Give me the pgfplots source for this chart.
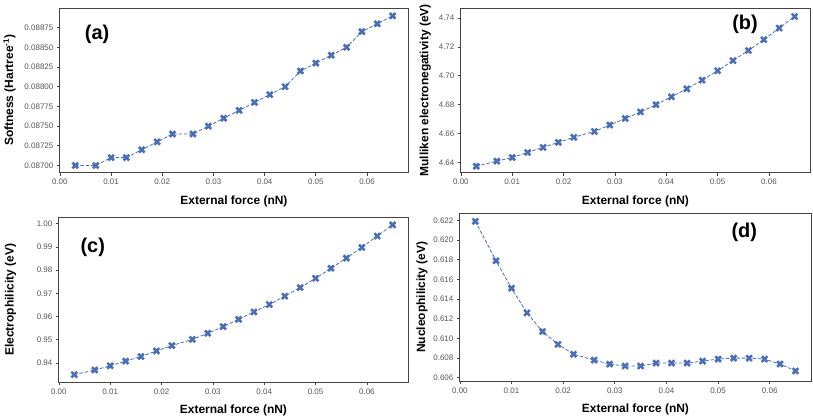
\documentclass[border=0pt]{standalone}
\usepackage{fontspec}
\setmainfont{Liberation Sans}
\usepackage{pgfplots}
\pgfplotsset{compat=1.18}
\definecolor{mk}{HTML}{4A6FB8}
\definecolor{fr}{HTML}{444444}
\definecolor{tk}{HTML}{555555}
\pgfplotstableread{
x y
0.003 0.08700
0.007 0.08700
0.010 0.08710
0.013 0.08710
0.016 0.08720
0.019 0.08730
0.022 0.08740
0.026 0.08740
0.029 0.08750
0.032 0.08760
0.035 0.08770
0.038 0.08780
0.041 0.08790
0.044 0.08800
0.047 0.08820
0.050 0.08830
0.053 0.08840
0.056 0.08850
0.059 0.08870
0.062 0.08880
0.065 0.08890
}\tabA
\pgfplotstableread{
x y
0.003 4.6375
0.007 4.6410
0.010 4.6435
0.013 4.6470
0.016 4.6505
0.019 4.6540
0.022 4.6575
0.026 4.6615
0.029 4.6660
0.032 4.6705
0.035 4.6750
0.038 4.6800
0.041 4.6855
0.044 4.6910
0.047 4.6970
0.050 4.7035
0.053 4.7105
0.056 4.7175
0.059 4.7250
0.062 4.7330
0.065 4.7410
}\tabB
\pgfplotstableread{
x y
0.003 0.9350
0.007 0.9370
0.010 0.9388
0.013 0.9408
0.016 0.9428
0.019 0.9452
0.022 0.9475
0.026 0.9502
0.029 0.9528
0.032 0.9557
0.035 0.9588
0.038 0.9620
0.041 0.9652
0.044 0.9688
0.047 0.9725
0.050 0.9765
0.053 0.9808
0.056 0.9852
0.059 0.9898
0.062 0.9947
0.065 0.9995
}\tabC
\pgfplotstableread{
x y
0.003 0.6219
0.007 0.6179
0.010 0.6151
0.013 0.6126
0.016 0.6107
0.019 0.6094
0.022 0.6084
0.026 0.6078
0.029 0.6074
0.032 0.6072
0.035 0.6072
0.038 0.6075
0.041 0.6075
0.044 0.6075
0.047 0.6077
0.050 0.6079
0.053 0.6080
0.056 0.6080
0.059 0.6079
0.062 0.6074
0.065 0.6067
}\tabD
\pgfplotsset{
  panel/.style={
    scale only axis,
    anchor=south west,
    xmin=0, xmax=0.068,
    xtick={0,0.01,...,0.06},
    /pgf/number format/assume math mode=true,
    xticklabel style={/pgf/number format/.cd,fixed,fixed zerofill,precision=2},
    scaled ticks=false,
    tick label style={font=\fontsize{8}{9}\selectfont, text=tk},
    label style={font=\fontsize{12}{14}\selectfont\bfseries},
    xlabel={External force (nN)},
    axis line style={fr, line width=0.9pt},
    tick style={fr, line width=0.7pt},
    tick align=outside,
    major tick length=3pt,
    xtick pos=bottom, ytick pos=left,
    xlabel style={yshift=-4pt},
  },
  ser/.style={color=mk, line width=0.8pt, dash pattern=on 3.5pt off 1.8pt,
    mark=x, mark size=4pt, mark options={solid, line width=2.6pt}},
}
\begin{document}
\begin{tikzpicture}[x=1pt,y=1pt]
\path (0,0) rectangle (813,416);
% (a)
\begin{axis}[panel, at={(58pt,243pt)}, width=349pt, height=165pt,
  ymin=0.08691, ymax=0.08900,
  ytick={0.087,0.08725,...,0.08876},
  yticklabel style={/pgf/number format/.cd,fixed,fixed zerofill,precision=5},
  ylabel style={yshift=2pt},
  ylabel={Softness (Hartree\textsuperscript{-1})}]
\addplot[ser] table[x=x,y=y]{\tabA};
\node[font=\fontsize{20}{22}\selectfont\bfseries] at (rel axis cs:0.107,0.84) {(a)};
\end{axis}
% (b)
\begin{axis}[panel, at={(460pt,243pt)}, width=350pt, height=165pt,
  ymin=4.6331, ymax=4.7469,
  ytick={4.64,4.66,...,4.741},
  yticklabel style={/pgf/number format/.cd,fixed,fixed zerofill,precision=2},
  ylabel style={yshift=1pt},
  ylabel={Mulliken electronegativity (eV)}]
\addplot[ser] table[x=x,y=y]{\tabB};
\node[font=\fontsize{20}{22}\selectfont\bfseries] at (rel axis cs:0.814,0.90) {(b)};
\end{axis}
% (c)
\begin{axis}[panel, at={(57pt,33pt)}, width=350pt, height=165pt,
  ymin=0.9318, ymax=1.0027,
  ytick={0.94,0.95,...,1.001},
  yticklabel style={/pgf/number format/.cd,fixed,fixed zerofill,precision=2},
  ylabel style={yshift=14pt},
  ylabel={Electrophilicity (eV)}]
\addplot[ser] table[x=x,y=y]{\tabC};
\node[font=\fontsize{20}{22}\selectfont\bfseries] at (rel axis cs:0.097,0.82) {(c)};
\end{axis}
% (d)
\begin{axis}[panel, at={(459pt,34pt)}, width=352pt, height=168pt,
  ymin=0.60567, ymax=0.6227,
  ytick={0.606,0.608,...,0.6221},
  yticklabel style={/pgf/number format/.cd,fixed,fixed zerofill,precision=3},
  ylabel style={yshift=-1pt},
  ylabel={Nucleophilicity (eV)}]
\addplot[ser] table[x=x,y=y]{\tabD};
\node[font=\fontsize{20}{22}\selectfont\bfseries] at (rel axis cs:0.81,0.89) {(d)};
\end{axis}
\end{tikzpicture}
\end{document}
